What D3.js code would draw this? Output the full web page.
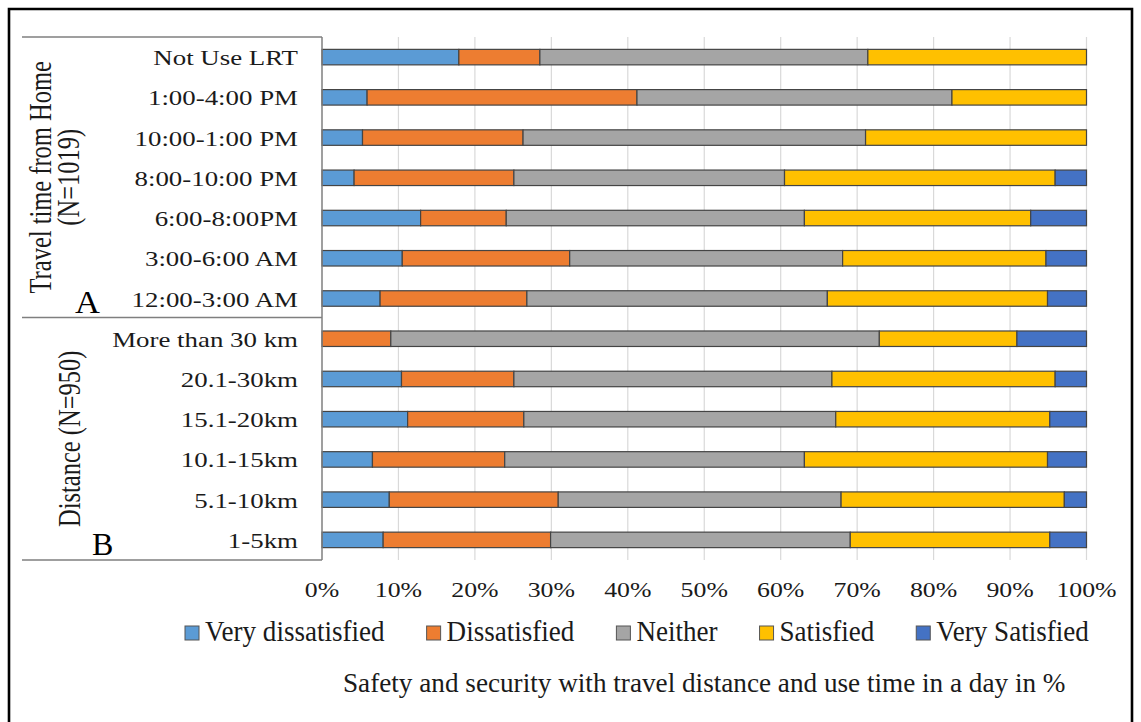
<!DOCTYPE html>
<html>
<head>
<meta charset="utf-8">
<script src="https://cdn.jsdelivr.net/npm/d3@7"></script>
<style>
  html, body { margin: 0; padding: 0; background: #fff; }
  svg { display: block; }
  text { font-family: "Liberation Serif", "Times New Roman", serif; fill: #1a1a1a; }
</style>
</head>
<body>
<svg id="chart" width="1141" height="722"></svg>
<script>
// Categories, top to bottom: travel-time groups (A) then distance groups (B)
const categories = [
  "Not Use LRT", "1:00-4:00 PM", "10:00-1:00 PM", "8:00-10:00 PM",
  "6:00-8:00PM", "3:00-6:00 AM", "12:00-3:00 AM",
  "More than 30 km", "20.1-30km", "15.1-20km", "10.1-15km", "5.1-10km", "1-5km"
];

// Share of respondents (%) per satisfaction level
const veryDissatisfied = [17.9, 5.9, 5.3, 4.2, 12.9, 10.5, 7.6, 0.0, 10.4, 11.2, 6.6, 8.8, 8.0];
const dissatisfied     = [10.6, 35.3, 21.0, 20.9, 11.2, 21.9, 19.2, 9.0, 14.7, 15.2, 17.3, 22.1, 21.9];
const neither          = [42.9, 41.2, 44.8, 35.4, 39.0, 35.7, 39.3, 63.9, 41.6, 40.8, 39.2, 37.0, 39.2];
const satisfied        = [28.6, 17.6, 28.9, 35.4, 29.6, 26.6, 28.8, 18.0, 29.2, 28.0, 31.8, 29.2, 26.1];
const verySatisfied    = [0.0, 0.0, 0.0, 4.1, 7.3, 5.3, 5.1, 9.1, 4.1, 4.8, 5.1, 2.9, 4.8];

const seriesNames  = ["Very dissatisfied", "Dissatisfied", "Neither", "Satisfied", "Very Satisfied"];
const seriesValues = [veryDissatisfied, dissatisfied, neither, satisfied, verySatisfied];
const seriesColors = ["#5B9BD5", "#ED7D31", "#A5A5A5", "#FFC000", "#4472C4"];

const tickValues = [0, 10, 20, 30, 40, 50, 60, 70, 80, 90, 100];

const groupA = { lines: ["Travel time from Home", "(N=1019)"], letter: "A", count: 7 };
const groupB = { lines: ["Distance (N=950)"], letter: "B", count: 6 };

const captionText = "Safety and security with travel distance and use time in a day in %";

// ---- layout ----
const svg = d3.select("#chart");
const plot = { left: 322, right: 1086.5, top: 37, bottom: 560 };
const panelLeft = 22;
const labelStretch = 1.28;   // left panel text is set wide

const x = d3.scaleLinear().domain([0, 100]).range([plot.left, plot.right]);
const y = d3.scaleBand().domain(categories)
  .range([plot.top, plot.bottom])
  .paddingInner(0.615).paddingOuter(0.3075);

// table of rows for stacking
const rows = categories.map((c, i) => {
  const r = { category: c };
  seriesNames.forEach((s, k) => { r[s] = seriesValues[k][i]; });
  return r;
});
const stacked = d3.stack().keys(seriesNames)(rows);

// helper: text drawn at (tx,ty) with horizontal stretch
function stretchedText(g, str, tx, ty, sx, opts) {
  const t = g.append("text")
    .attr("transform", `translate(${tx},${ty}) scale(${sx},1)` + (opts.rotate ? ` rotate(${opts.rotate})` : ""))
    .attr("text-anchor", opts.anchor || "start")
    .style("font-size", opts.size + "px")
    .text(str);
  if (opts.fill) t.style("fill", opts.fill);
  return t;
}

// outer frame
svg.append("path")
  .attr("d", `M9,722 L9,9 L1132,9 L1132,722`)
  .attr("fill", "none").attr("stroke", "#000").attr("stroke-width", 2.6);

// gridlines
svg.append("g").selectAll("line")
  .data(tickValues.filter(v => v > 0))
  .join("line")
  .attr("x1", d => x(d)).attr("x2", d => x(d))
  .attr("y1", plot.top).attr("y2", plot.bottom)
  .attr("stroke", "#d9d9d9").attr("stroke-width", 1.2);

// stacked bars
svg.append("g").selectAll("g")
  .data(stacked)
  .join("g")
  .attr("fill", (d, i) => seriesColors[i])
  .selectAll("rect")
  .data(d => d.filter(p => p[1] - p[0] > 0))
  .join("rect")
  .attr("x", d => x(d[0]))
  .attr("width", d => x(d[1]) - x(d[0]))
  .attr("y", d => y(d.data.category))
  .attr("height", y.bandwidth())
  .attr("stroke", "#444").attr("stroke-width", 1.2);

// label panel: axis line and table rules
const dividerY = y(categories[groupA.count]) - (y.step() - y.bandwidth()) / 2 - 1;
const panel = svg.append("g").attr("stroke", "#7f7f7f").attr("stroke-width", 1.5);
panel.append("line").attr("x1", plot.left).attr("x2", plot.left).attr("y1", plot.top).attr("y2", plot.bottom);
[plot.top, dividerY, plot.bottom].forEach(yy => {
  panel.append("line").attr("x1", panelLeft).attr("x2", plot.left).attr("y1", yy).attr("y2", yy);
});

// category labels
const catG = svg.append("g");
categories.forEach(c => {
  stretchedText(catG, c, 298, y(c) + y.bandwidth() / 2 + 8, labelStretch, { anchor: "end", size: 21 });
});

// group titles (rotated)
const grpG = svg.append("g");
const aMid = (plot.top + dividerY) / 2;
const bMid = (dividerY + plot.bottom) / 2;
stretchedText(grpG, groupA.lines[0], 51, aMid, labelStretch, { anchor: "middle", size: 24.5, rotate: -90 });
stretchedText(grpG, groupA.lines[1], 79, aMid, labelStretch, { anchor: "middle", size: 24.5, rotate: -90 });
stretchedText(grpG, groupB.lines[0], 80, bMid, labelStretch, { anchor: "middle", size: 24.5, rotate: -90 });
stretchedText(grpG, groupA.letter, 75, dividerY - 5, 1.08, { size: 32, fill: "#000" });
stretchedText(grpG, groupB.letter, 92, plot.bottom - 5, 1.0, { size: 32, fill: "#000" });

// x-axis tick labels
const tickG = svg.append("g");
tickValues.forEach(v => {
  stretchedText(tickG, v + "%", x(v), 597, 1.29, { anchor: "middle", size: 20 });
});

// legend, laid out left to right with equal gaps
const legendG = svg.append("g");
const legendSize = 28.5, legendSx = 0.95, sw = 15, textGap = 5, itemGap = 42;
let lx = 185;
seriesNames.forEach((name, i) => {
  legendG.append("rect")
    .attr("x", lx).attr("y", 626).attr("width", sw - 1).attr("height", sw - 1)
    .attr("fill", seriesColors[i]).attr("stroke", "#555").attr("stroke-width", 1);
  const t = stretchedText(legendG, name, lx + sw + textGap, 641, legendSx, { size: legendSize });
  const w = t.node().getComputedTextLength() * legendSx;
  lx += sw + textGap + w + itemGap;
});

// caption
svg.append("text")
  .attr("x", 343).attr("y", 692)
  .style("font-size", "27.2px")
  .text(captionText);
</script>
</body>
</html>
